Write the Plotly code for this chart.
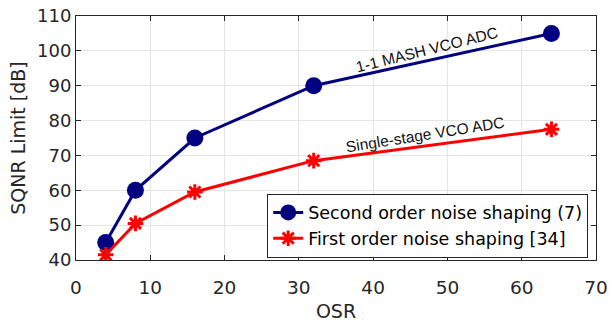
import plotly.graph_objects as go

osr = [4, 8, 16, 32, 64]
second_order = [45, 60, 75, 90, 105]
first_order = [41.5, 50.5, 59.5, 68.5, 77.5]

x_ticks = [0, 10, 20, 30, 40, 50, 60, 70]
y_ticks = [40, 50, 60, 70, 80, 90, 100, 110]

dark = "#262626"
font = "DejaVu Sans"

fig = go.Figure()
fig.add_trace(go.Scatter(
    x=osr, y=second_order, mode="lines+markers",
    name="Second order noise shaping (7)",
    line=dict(color="#000080", width=3),
    marker=dict(symbol="circle", size=17, color="#000080"),
))
fig.add_trace(go.Scatter(
    x=osr, y=first_order, mode="lines+markers",
    name="First order noise shaping [34]",
    line=dict(color="#ff0000", width=3),
    marker=dict(symbol="asterisk-open", size=13, color="#ff0000",
                line=dict(color="#ff0000", width=3)),
))

axis_common = dict(
    showline=True, linecolor=dark, linewidth=1, mirror="allticks",
    ticks="inside", ticklen=5, tickcolor=dark,
    showgrid=True, gridcolor="#e5e5e5", gridwidth=1,
    zeroline=False, automargin=False,
)

fig.update_xaxes(range=[0, 70], tickvals=x_ticks,
                 tickfont=dict(family=font, size=18.5, color=dark),
                 ticklabelstandoff=11,
                 title=dict(text="OSR", font=dict(family=font, size=19, color=dark), standoff=8),
                 **axis_common)
fig.update_yaxes(range=[40, 110], tickvals=y_ticks,
                 tickfont=dict(family=font, size=18, color=dark),
                 title=dict(text="SQNR Limit [dB]", font=dict(family=font, size=19, color=dark), standoff=6),
                 **axis_common)

fig.add_annotation(x=47.3, y=100.4, text="1-1 MASH VCO ADC", showarrow=False,
                   textangle=-14, font=dict(family="Liberation Sans", size=15.5, color="#111111"))
fig.add_annotation(x=47.0, y=76.0, text="Single-stage VCO ADC", showarrow=False,
                   textangle=-9, font=dict(family="Liberation Sans", size=15.5, color="#111111"))

fig.update_layout(
    width=610, height=322,
    margin=dict(l=76, r=14, t=16, b=62, autoexpand=False),
    paper_bgcolor="white", plot_bgcolor="white",
    showlegend=True,
    legend=dict(x=0.985, y=0.01, xanchor="right", yanchor="bottom",
                bgcolor="white", bordercolor=dark, borderwidth=1,
                font=dict(family=font, size=17.5, color="#000000"),
                tracegroupgap=0, itemwidth=30),
)

fig.write_html("out.html")
